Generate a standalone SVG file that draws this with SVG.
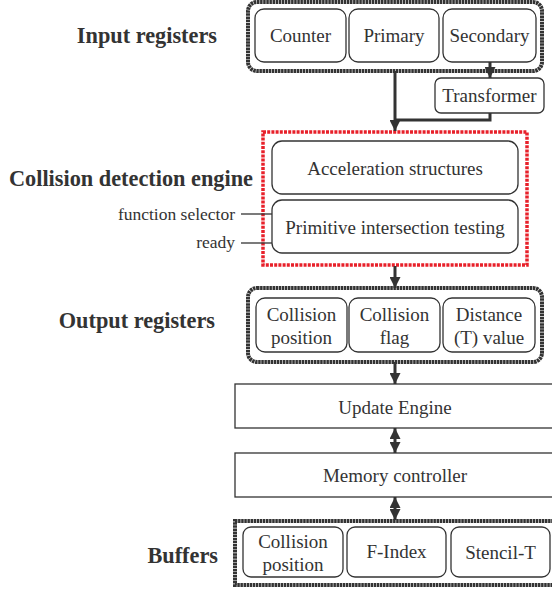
<svg xmlns="http://www.w3.org/2000/svg" width="552" height="589" viewBox="0 0 552 589">
<defs>
<marker id="ah" viewBox="0 0 10 10" refX="10" refY="5" markerWidth="11" markerHeight="11" markerUnits="userSpaceOnUse" orient="auto-start-reverse">
<path d="M0,0 L10,5 L0,10 z" fill="#333"/>
</marker>
<style>
.t{font-family:"Liberation Serif","Times New Roman",serif;fill:#333;text-anchor:middle;font-size:19px}
.lbl{font-family:"Liberation Serif","Times New Roman",serif;fill:#333;font-weight:bold;font-size:22.3px;text-anchor:end}
.sm{font-family:"Liberation Serif","Times New Roman",serif;fill:#333;font-size:17.5px;text-anchor:end}
.grp{fill:none;stroke:#333;stroke-width:4;stroke-dasharray:2.5 0.6}
.box{fill:#fff;stroke:#333;stroke-width:1.3}
.red{fill:none;stroke:#e8202a;stroke-width:3.5;stroke-dasharray:3 1.2}
.c{fill:none;stroke:#333;stroke-width:3}
.w{fill:none;stroke:#333;stroke-width:1.3}
</style>
</defs>
<g id="labels">
<text class="lbl" x="217" y="43">Input registers</text>
<text class="lbl" x="253" y="186">Collision detection engine</text>
<text class="lbl" x="215" y="328">Output registers</text>
<text class="lbl" x="218" y="563">Buffers</text>
<text class="sm" x="235" y="220">function selector</text>
<text class="sm" x="235" y="248">ready</text>
</g>
<g id="input-registers">
<rect class="grp" x="248" y="2" width="294" height="69" rx="9"/>
<g id="counter"><rect class="box" x="255" y="9" width="91" height="53" rx="9"/><text class="t" x="300.5" y="42">Counter</text></g>
<g id="primary"><rect class="box" x="349" y="9" width="90" height="53" rx="9"/><text class="t" x="394" y="42">Primary</text></g>
<g id="secondary"><rect class="box" x="443" y="9" width="93" height="53" rx="9"/><text class="t" x="489.5" y="42">Secondary</text></g>
</g>
<g id="transformer">
<rect class="box" x="435" y="78" width="109" height="35" rx="6"/>
<text class="t" x="489.5" y="102">Transformer</text>
</g>
<g id="collision-engine">
<rect class="red" x="263" y="132" width="264" height="133"/>
<g id="accel"><rect class="box" x="272" y="141" width="246" height="53" rx="10"/><text class="t" x="395" y="175">Acceleration structures</text></g>
<g id="primitive"><rect class="box" x="272" y="200" width="246" height="53" rx="10"/><text class="t" x="395" y="234">Primitive intersection testing</text></g>
</g>
<g id="output-registers">
<rect class="grp" x="248" y="288" width="294" height="74" rx="9"/>
<g id="out-pos"><rect class="box" x="256" y="298" width="91" height="54" rx="9"/><text class="t" x="301.5" y="321">Collision</text><text class="t" x="301.5" y="344">position</text></g>
<g id="out-flag"><rect class="box" x="349" y="298" width="91" height="54" rx="9"/><text class="t" x="394.5" y="321">Collision</text><text class="t" x="394.5" y="344">flag</text></g>
<g id="out-dist"><rect class="box" x="443" y="298" width="92" height="54" rx="9"/><text class="t" x="489" y="321">Distance</text><text class="t" x="489" y="344">(T) value</text></g>
</g>
<g id="update-engine">
<rect class="box" x="235" y="384" width="330" height="44"/>
<text class="t" x="395" y="414">Update Engine</text>
</g>
<g id="memory-controller">
<rect class="box" x="235" y="453" width="330" height="44"/>
<text class="t" x="395" y="482">Memory controller</text>
</g>
<g id="buffers">
<rect class="grp" x="235" y="521" width="330" height="64"/>
<g id="buf-pos"><rect class="box" x="243" y="527" width="100" height="50" rx="8"/><text class="t" x="293" y="548">Collision</text><text class="t" x="293" y="571">position</text></g>
<g id="buf-findex"><rect class="box" x="347" y="527" width="99" height="50" rx="8"/><text class="t" x="396.5" y="558">F-Index</text></g>
<g id="buf-stencil"><rect class="box" x="451" y="527" width="99" height="50" rx="8"/><text class="t" x="500.5" y="559">Stencil-T</text></g>
</g>
<g id="connectors">
<line class="c" x1="490" y1="62" x2="490" y2="78" marker-end="url(#ah)"/>
<line class="c" x1="395" y1="71" x2="395" y2="131" marker-end="url(#ah)"/>
<path class="c" d="M490,113 V120 H395"/>
<line class="w" x1="241" y1="214" x2="272" y2="214"/>
<line class="w" x1="241" y1="243" x2="272" y2="243"/>
<line class="c" x1="395" y1="266" x2="395" y2="288" marker-end="url(#ah)"/>
<line class="c" x1="395" y1="362" x2="395" y2="384" marker-end="url(#ah)"/>
<line class="c" x1="395" y1="428" x2="395" y2="453" marker-start="url(#ah)" marker-end="url(#ah)"/>
<line class="c" x1="395" y1="497" x2="395" y2="520" marker-start="url(#ah)" marker-end="url(#ah)"/>
</g>
</svg>
